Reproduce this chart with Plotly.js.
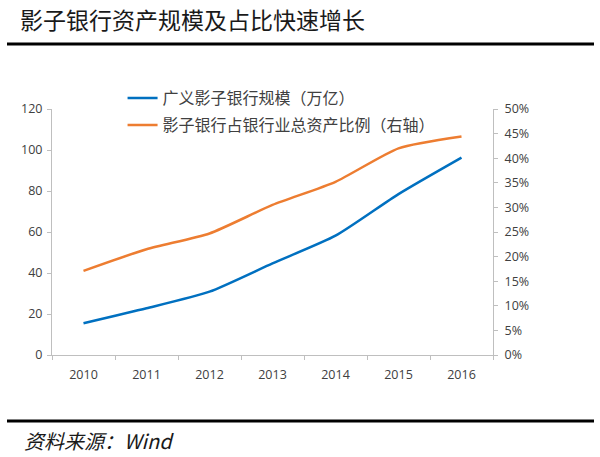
<!DOCTYPE html>
<html>
<head>
<meta charset="utf-8">
<script src="https://cdn.plot.ly/plotly-3.0.1.min.js"></script>
<style>html,body{margin:0;padding:0;background:#fff;}#chart{width:600px;height:457px;}</style>
</head>
<body>
<div id="chart"></div>
<script>
const years = ["2010","2011","2012","2013","2014","2015","2016"];
const shadowScale = [15.5, 22.8, 30.9, 44.7, 58.2, 78.5, 96.3];
const shadowShare = [17.1, 21.5, 24.7, 30.5, 35.2, 42.0, 44.4];
const leftTicks = [0, 20, 40, 60, 80, 100, 120];
const rightTicks = [0, 5, 10, 15, 20, 25, 30, 35, 40, 45, 50];
const rightTickLabels = rightTicks.map(v => v + "%");
const seriesNames = ["广义影子银行规模（万亿）", "影子银行占银行业总资产比例（右轴）"];
const titleText = "影子银行资产规模及占比快速增长";
const sourceText = "资料来源：Wind";

const tickFont = {family: "Open Sans, Liberation Sans, sans-serif", size: 12.5, color: "#404040"};
const cjk = "Noto Sans CJK SC, sans-serif";
const legendFont = {family: cjk, size: 16, color: "#404040"};

const traces = [
  {x: years, y: shadowScale, name: seriesNames[0], type: "scatter", mode: "lines",
   line: {color: "#0070C0", width: 2.5, shape: "spline", smoothing: 0.6}, yaxis: "y", legend: "legend"},
  {x: years, y: shadowShare, name: seriesNames[1], type: "scatter", mode: "lines",
   line: {color: "#ED7D31", width: 2.5, shape: "spline", smoothing: 0.6}, yaxis: "y2", legend: "legend2"}
];

const layout = {
  width: 600, height: 457,
  margin: {l: 52, r: 107, t: 109, b: 102},
  paper_bgcolor: "#fff", plot_bgcolor: "#fff",
  showlegend: true,
  legend: {x: 0.16, y: (355-98)/246, xanchor: "left", yanchor: "middle", bgcolor: "rgba(0,0,0,0)",
           font: legendFont, itemwidth: 30},
  legend2: {x: 0.16, y: (355-125)/246, xanchor: "left", yanchor: "middle", bgcolor: "rgba(0,0,0,0)",
           font: legendFont, itemwidth: 30},
  title: {text: titleText, x: 20/600, xref: "container", xanchor: "left", y: 1 - 21/457, yref: "container", yanchor: "middle",
          font: {family: cjk, size: 23, color: "#1a1a1a"}},
  xaxis: {type: "category", range: [-0.5, 6.5], showgrid: false, showline: true, linecolor: "#bfbfbf", linewidth: 1,
          ticks: "outside", tickson: "boundaries", ticklen: 4, tickcolor: "#bfbfbf", ticklabelstandoff: 8,
          tickfont: tickFont, zeroline: false, fixedrange: true},
  yaxis: {range: [0, 120], tickvals: leftTicks, showgrid: false, showline: true, linecolor: "#bfbfbf",
          ticks: "outside", ticklen: 4, tickcolor: "#bfbfbf", tickfont: tickFont, zeroline: false, ticklabelstandoff: 2},
  yaxis2: {range: [0, 50], tickvals: rightTicks, ticktext: rightTickLabels, overlaying: "y", side: "right",
           showgrid: false, showline: true, linecolor: "#bfbfbf", ticks: "outside", ticklen: 4,
           tickcolor: "#bfbfbf", tickfont: tickFont, zeroline: false, ticklabelstandoff: 4},
  shapes: [
    {type: "line", xref: "paper", yref: "paper", x0: -45/441, x1: 542/441, y0: 311/246, y1: 311/246,
     line: {color: "#000", width: 3}},
    {type: "line", xref: "paper", yref: "paper", x0: -45/441, x1: 542/441, y0: -66/246, y1: -66/246,
     line: {color: "#000", width: 3}}
  ],
  annotations: [
    {text: sourceText, xref: "paper", yref: "paper", x: -30/441, y: -85/246, xanchor: "left", yanchor: "middle",
     showarrow: false, font: {family: cjk, size: 20, color: "#1a1a1a", style: "italic"}}
  ]
};

Plotly.newPlot("chart", traces, layout, {displayModeBar: false, staticPlot: true});
</script>
</body>
</html>
